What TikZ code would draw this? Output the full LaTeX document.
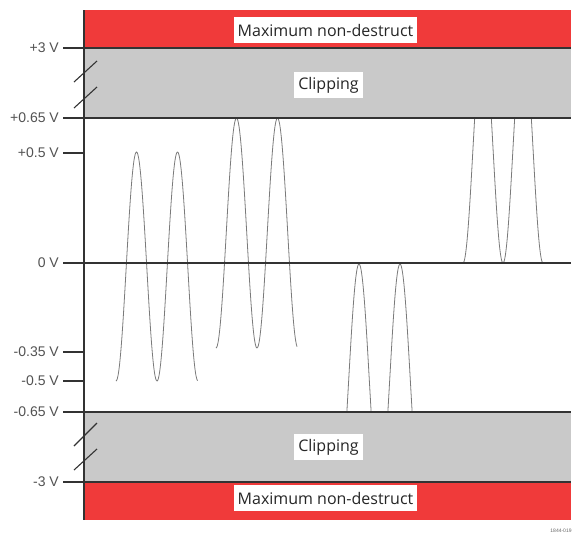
\documentclass[tikz,border=0pt]{standalone}
\usepackage{fontspec}
\setmainfont{Liberation Sans}
\newfontfamily\boxfont{Open Sans}
\definecolor{maxred}{HTML}{F03A3A}
\definecolor{clipgray}{HTML}{C9C9C9}
\definecolor{axisc}{HTML}{333333}
\definecolor{wavec}{HTML}{7A7A7A}
\begin{document}
\begin{tikzpicture}[x=1pt,y=-1pt,
  lvl/.style={draw=axisc, line width=1.6pt},
  tickline/.style={draw=axisc, line width=1.3pt},
  axisline/.style={draw=axisc, line width=1.2pt},
  brk/.style={draw=axisc, line width=1.1pt},
  wave/.style={draw=wavec, line width=0.8pt},
  vlabel/.style={anchor=east, text=axisc!85, font=\fontsize{14}{16}\selectfont, inner sep=0pt},
  band/.style={fill=white, inner xsep=4pt, inner ysep=0pt, minimum height=26pt, font=\boxfont\fontsize{16}{19}\selectfont, text=black!85}]
\useasboundingbox (0,0) rectangle (581,539);
% bands
\fill[maxred] (84,10) rectangle (571,48);
\fill[clipgray] (84,48) rectangle (571,118);
\fill[clipgray] (84,412) rectangle (571,482);
\fill[maxred] (84,482) rectangle (571,520);
% band labels
\node[band] (maxtop) at (325.5,30) {Maximum non-destruct};
\node[band] (cliptop) at (328.5,85) {Clipping};
\node[band] (clipbot) at (328.5,447) {Clipping};
\node[band] (maxbot) at (325.5,498) {Maximum non-destruct};
% waveforms
\begin{scope}
\clip (84,118) rectangle (571,412);
\draw[wave] plot[domain=116:197.5, samples=120, smooth] (\x, {266.5 + 114.5*cos(8.7805*(\x-116))});
\draw[wave] plot[domain=216:297, samples=120, smooth] (\x, {233 + 115*cos(8.7805*(\x-216))});
\draw[wave] plot[domain=338.5:420.5, samples=160, smooth] (\x, {379 - 115*cos(8.7805*(\x-359))});
\draw[wave] plot[domain=463:543, samples=160, smooth] (\x, {148 + 115*cos(9*(\x-463))});
\end{scope}
% axis
\draw[axisline] (84,10) -- (84,520);
% level lines
\draw[lvl] (63,48) -- (571,48);
\draw[lvl] (63,118) -- (571,118);
\draw[lvl] (63,263) -- (571,263);
\draw[lvl] (63,412) -- (571,412);
\draw[lvl] (63,482) -- (571,482);
% short ticks
\draw[tickline] (63,153) -- (84,153);
\draw[tickline] (63,352) -- (84,352);
\draw[tickline] (63,381) -- (84,381);
% labels
\node[vlabel] (l3) at (59,48) {+3 V};
\node[vlabel] (l065) at (59,118) {+0.65 V};
\node[vlabel] (l05) at (59,153) {+0.5 V};
\node[vlabel] (l0) at (59,263) {0 V};
\node[vlabel] (lm035) at (59,352) {-0.35 V};
\node[vlabel] (lm05) at (59,381) {-0.5 V};
\node[vlabel] (lm065) at (59,412) {-0.65 V};
\node[vlabel] (lm3) at (59,482) {-3 V};
% break marks
\draw[brk] (74,82) -- (97,61);
\draw[brk] (74,108) -- (97,87);
\draw[brk] (74,446) -- (97,423);
\draw[brk] (74,470) -- (97,449);
% figure number
\node[font=\fontsize{5}{6}\selectfont, text=black!60, inner sep=0pt] (fig) at (561,531) {1844-019};
\end{tikzpicture}
\end{document}
